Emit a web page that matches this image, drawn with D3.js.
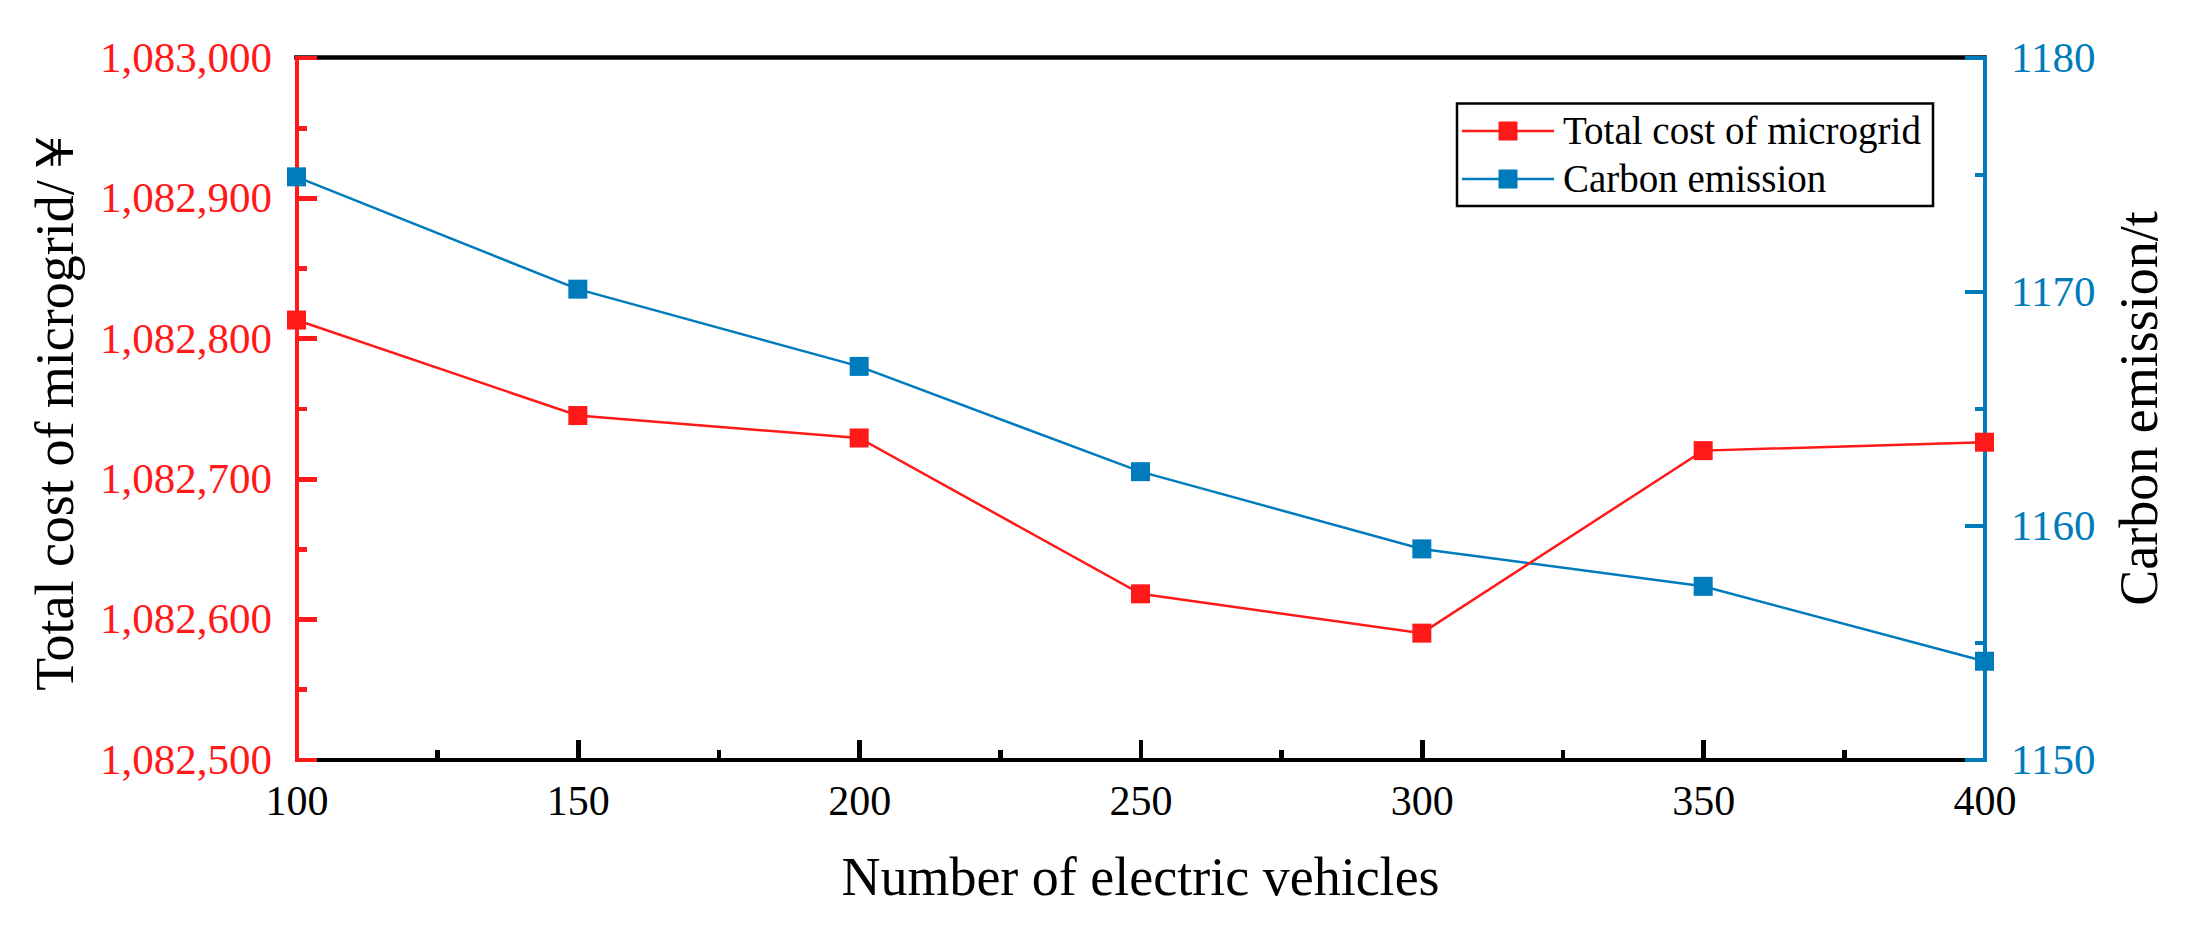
<!DOCTYPE html>
<html>
<head>
<meta charset="utf-8">
<script src="https://cdn.jsdelivr.net/npm/d3@7"></script>
<style>
  html, body { margin: 0; padding: 0; background: #fff; }
  svg { display: block; }
</style>
</head>
<body>
<svg id="chart" width="2186" height="928"></svg>
<script>
// ---- data ----
const evCounts = [100, 150, 200, 250, 300, 350, 400];
const totalCost = [1082813, 1082745, 1082729, 1082618, 1082590, 1082720, 1082726];
const carbonEmission = [1174.9, 1170.1, 1166.8, 1162.3, 1159.0, 1157.4, 1154.2];
const xTicks = [100, 150, 200, 250, 300, 350, 400];
const xMinorTicks = [125, 175, 225, 275, 325, 375];
const leftTicks = [1082500, 1082600, 1082700, 1082800, 1082900, 1083000];
const leftMinorTicks = [1082550, 1082650, 1082750, 1082850, 1082950];
const rightTicks = [1150, 1160, 1170, 1180];
const rightMinorTicks = [1155, 1165, 1175];
const seriesNames = ["Total cost of microgrid", "Carbon emission"];

// ---- style ----
const FONT = "Liberation Serif";
const RED = "#ff1919";
const BLUE = "#007bbb";
const L = 296.5, R = 1984.5, T = 57.5, B = 759.5;
const AXW = 4.7;

const svg = d3.select("#chart");
const x = d3.scaleLinear().domain([100, 400]).range([L, R]);
const yL = d3.scaleLinear().domain([1082500, 1083000]).range([B, T]);
const yR = d3.scaleLinear().domain([1150, 1180]).range([B, T]);

const fmt = d3.format(",");

// top frame
svg.append("line").attr("x1", L).attr("x2", R).attr("y1", T).attr("y2", T)
  .attr("stroke", "#000").attr("stroke-width", AXW).attr("stroke-linecap", "square");

// bottom axis (major)
const gx = svg.append("g").attr("transform", `translate(0,${B})`)
  .call(d3.axisBottom(x).tickValues(xTicks).tickSizeInner(-20).tickSizeOuter(0).tickFormat(d3.format("d")));
gx.select(".domain").attr("stroke", "#000").attr("stroke-width", AXW).attr("stroke-linecap", "square");
gx.selectAll(".tick line").attr("stroke", "#000").attr("stroke-width", AXW);
gx.selectAll(".tick text").attr("y", 55.5).attr("dy", 0).attr("fill", "#000")
  .attr("font-family", FONT).attr("font-size", 42);
// bottom minor
const gxm = svg.append("g").attr("transform", `translate(0,${B})`)
  .call(d3.axisBottom(x).tickValues(xMinorTicks).tickSizeInner(-10).tickSizeOuter(0).tickFormat(""));
gxm.select(".domain").remove();
gxm.selectAll(".tick line").attr("stroke", "#000").attr("stroke-width", AXW);

// left axis
const gl = svg.append("g").attr("transform", `translate(${L},0)`)
  .call(d3.axisLeft(yL).tickValues(leftTicks).tickSizeInner(-20).tickSizeOuter(0).tickPadding(24.5).tickFormat(fmt));
gl.select(".domain").attr("stroke", RED).attr("stroke-width", AXW).attr("stroke-linecap", "square");
gl.selectAll(".tick line").attr("stroke", RED).attr("stroke-width", AXW);
gl.selectAll(".tick text").attr("fill", RED).attr("font-family", FONT).attr("font-size", 43);
const glm = svg.append("g").attr("transform", `translate(${L},0)`)
  .call(d3.axisLeft(yL).tickValues(leftMinorTicks).tickSizeInner(-10).tickSizeOuter(0).tickFormat(""));
glm.select(".domain").remove();
glm.selectAll(".tick line").attr("stroke", RED).attr("stroke-width", AXW);

// right axis
const gr = svg.append("g").attr("transform", `translate(${R},0)`)
  .call(d3.axisRight(yR).tickValues(rightTicks).tickSizeInner(-20).tickSizeOuter(0).tickPadding(26.5).tickFormat(d3.format("d")));
gr.select(".domain").attr("stroke", BLUE).attr("stroke-width", AXW).attr("stroke-linecap", "square");
gr.selectAll(".tick line").attr("stroke", BLUE).attr("stroke-width", AXW);
gr.selectAll(".tick text").attr("fill", BLUE).attr("font-family", FONT).attr("font-size", 43);
const grm = svg.append("g").attr("transform", `translate(${R},0)`)
  .call(d3.axisRight(yR).tickValues(rightMinorTicks).tickSizeInner(-10).tickSizeOuter(0).tickFormat(""));
grm.select(".domain").remove();
grm.selectAll(".tick line").attr("stroke", BLUE).attr("stroke-width", AXW);

svg.selectAll(".domain, .tick line").attr("shape-rendering", "crispEdges");

// axis titles
svg.append("text").attr("x", (L + R) / 2).attr("y", 895).attr("text-anchor", "middle")
  .attr("font-family", FONT).attr("font-size", 54).attr("fill", "#000").text("Number of electric vehicles");
svg.append("text").attr("transform", `translate(73,${(T + B) / 2}) rotate(-90)`).attr("text-anchor", "middle")
  .attr("font-family", FONT).attr("font-size", 54).attr("fill", "#000").text("Total cost of microgrid/￥");
svg.append("text").attr("transform", `translate(2157,${(T + B) / 2}) rotate(-90)`).attr("text-anchor", "middle")
  .attr("font-family", FONT).attr("font-size", 54).attr("fill", "#000").text("Carbon emission/t");

// series
const costData = evCounts.map((d, i) => ({ x: d, y: totalCost[i] }));
const carbonData = evCounts.map((d, i) => ({ x: d, y: carbonEmission[i] }));
const MS = 19;

function drawSeries(data, yScale, color) {
  const line = d3.line().x(d => x(d.x)).y(d => yScale(d.y));
  svg.append("path").datum(data).attr("d", line).attr("fill", "none")
    .attr("stroke", color).attr("stroke-width", 2.5);
  svg.append("g").selectAll("rect").data(data).join("rect")
    .attr("x", d => x(d.x) - MS / 2).attr("y", d => yScale(d.y) - MS / 2)
    .attr("width", MS).attr("height", MS).attr("fill", color);
}
drawSeries(carbonData, yR, BLUE);
drawSeries(costData, yL, RED);

// legend
const lg = svg.append("g");
lg.append("rect").attr("x", 1457).attr("y", 103.5).attr("width", 476).attr("height", 102.5)
  .attr("fill", "#fff").attr("stroke", "#000").attr("stroke-width", 2.5);
const legendItems = [
  { name: seriesNames[0], color: RED, cy: 131, base: 143.5 },
  { name: seriesNames[1], color: BLUE, cy: 179, base: 191.5 }
];
legendItems.forEach(it => {
  lg.append("line").attr("x1", 1462).attr("x2", 1554).attr("y1", it.cy).attr("y2", it.cy)
    .attr("stroke", it.color).attr("stroke-width", 2.5);
  lg.append("rect").attr("x", 1508 - MS / 2).attr("y", it.cy - MS / 2)
    .attr("width", MS).attr("height", MS).attr("fill", it.color);
  lg.append("text").attr("x", 1563).attr("y", it.base).attr("font-family", FONT).attr("font-size", 39)
    .attr("fill", "#000").text(it.name);
});
</script>
</body>
</html>
